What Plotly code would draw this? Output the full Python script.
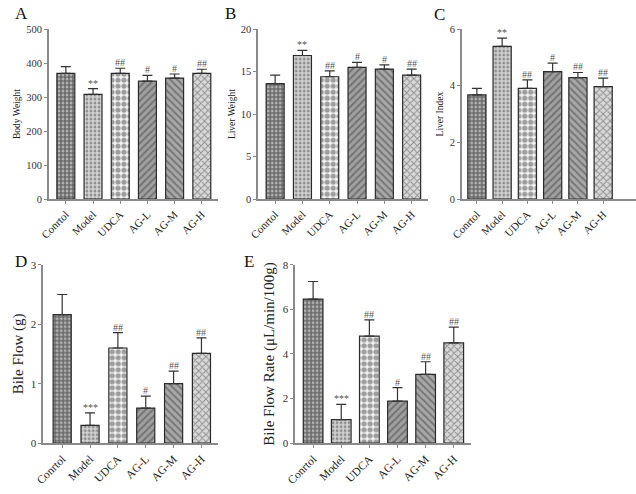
import plotly.graph_objects as go

groups = ["Conrtol", "Model", "UDCA", "AG-L", "AG-M", "AG-H"]

body_weight = [370, 308, 370, 347, 356, 370]
body_weight_err = [20, 17, 15, 17, 12, 12]
body_weight_sig = ["", "**", "##", "#", "#", "##"]

liver_weight = [13.6, 16.9, 14.4, 15.5, 15.3, 14.6]
liver_weight_err = [1.0, 0.6, 0.7, 0.6, 0.5, 0.7]
liver_weight_sig = ["", "**", "##", "#", "#", "##"]

liver_index = [3.68, 5.39, 3.91, 4.5, 4.29, 3.97]
liver_index_err = [0.23, 0.29, 0.3, 0.3, 0.18, 0.3]
liver_index_sig = ["", "**", "##", "#", "##", "##"]

bile_flow = [2.16, 0.30, 1.60, 0.59, 1.0, 1.51]
bile_flow_err = [0.34, 0.21, 0.26, 0.2, 0.21, 0.26]
bile_flow_sig = ["", "***", "##", "#", "##", "##"]

bile_rate = [6.46, 1.05, 4.8, 1.88, 3.08, 4.5]
bile_rate_err = [0.79, 0.69, 0.73, 0.61, 0.57, 0.7]
bile_rate_sig = ["", "***", "##", "#", "##", "##"]

shapes_pat = [".", ".", ".", "/", "\\", "x"]
bg_cols = ["#686868", "#d4d4d4", "#f4f4f4", "#a0a0a0", "#a8a8a8", "#d8d8d8"]
fg_cols = ["#9c9c9c", "#a8a8a8", "#4a4a4a", "#555555", "#4a4a4a", "#8c8c8c"]
pat_size = [4, 4, 6, 5, 5, 5]
pat_sol = [0.4, 0.4, 0.6, 0.4, 0.4, 0.35]

FONT = "Liberation Serif, Times New Roman, serif"

panels = [
    dict(vals=body_weight, err=body_weight_err, sig=body_weight_sig, title="Body Weight",
         xd=[0.077, 0.343], yd=[0.597, 0.941], xr=[-0.62, 5.6], yr=[0, 500], dt=100,
         tsize=9.5, letter="A", lx=0.02, ly=0.995, bw=0.66),
    dict(vals=liver_weight, err=liver_weight_err, sig=liver_weight_sig, title="Liver Weight",
         xd=[0.406, 0.673], yd=[0.597, 0.941], xr=[-0.62, 5.6], yr=[0, 20], dt=5,
         tsize=9.5, letter="B", lx=0.351, ly=0.995, bw=0.66),
    dict(vals=liver_index, err=liver_index_err, sig=liver_index_sig, title="Liver Index",
         xd=[0.726, 1.0], yd=[0.597, 0.941], xr=[-0.6, 6.3], yr=[0, 6], dt=2,
         tsize=9.5, letter="C", lx=0.68, ly=0.993, bw=0.72),
    dict(vals=bile_flow, err=bile_flow_err, sig=bile_flow_sig, title="Bile Flow (g)",
         xd=[0.068, 0.343], yd=[0.103, 0.464], xr=[-0.68, 5.6], yr=[0, 3], dt=1,
         tsize=15, letter="D", lx=0.02, ly=0.494, bw=0.65),
    dict(vals=bile_rate, err=bile_rate_err, sig=bile_rate_sig, title="Bile Flow Rate (μL/min/100g)",
         xd=[0.464, 0.74], yd=[0.103, 0.464], xr=[-0.64, 5.6], yr=[0, 8], dt=2,
         tsize=15, letter="E", lx=0.38, ly=0.494, bw=0.7),
]

fig = go.Figure()
for i, p in enumerate(panels):
    n = "" if i == 0 else str(i + 1)
    xa, ya = "x" + n, "y" + n
    fig.add_trace(go.Bar(
        x=list(range(len(groups))), y=p["vals"], xaxis=xa, yaxis=ya, width=p["bw"],
        marker=dict(
            color=bg_cols,
            line=dict(color="#2a2a2a", width=1.2),
            pattern=dict(shape=shapes_pat, fgcolor=fg_cols,
                         size=pat_size, solidity=pat_sol, fillmode="overlay"),
        ),
        error_y=dict(type="data", symmetric=False, array=p["err"],
                     arrayminus=[0] * len(groups), color="#333", thickness=1.2, width=5),
        showlegend=False, hoverinfo="skip",
    ))
    fig.layout["xaxis" + n] = dict(
        domain=p["xd"], anchor=ya, range=p["xr"], tickmode="array", automargin=False,
        tickvals=list(range(len(groups))), ticktext=groups, tickangle=-45,
        showline=True, linecolor="#8a8a8a", linewidth=1.5, ticks="outside",
        ticklen=3, tickcolor="#8a8a8a", showgrid=False, zeroline=False,
        tickfont=dict(family=FONT, size=11 if i < 3 else 11.5, color="#222"), fixedrange=True)
    fig.layout["yaxis" + n] = dict(
        domain=p["yd"], anchor=xa, range=p["yr"], dtick=p["dt"], automargin=False,
        showline=True, linecolor="#8a8a8a", linewidth=1.5, ticks="outside",
        ticklen=3, tickcolor="#8a8a8a", showgrid=False, zeroline=False,
        title=dict(text=p["title"], font=dict(family=FONT, size=p["tsize"], color="#222"),
                   standoff=4 if i < 3 else 4),
        tickfont=dict(family=FONT, size=10.5 if i < 3 else 11, color="#333"), fixedrange=True)
    for j, s in enumerate(p["sig"]):
        if s:
            fig.add_annotation(x=j, y=p["vals"][j] + p["err"][j], xref=xa, yref=ya,
                               text=s, showarrow=False, yanchor="bottom", yshift=-2,
                               font=dict(family=FONT, size=10, color="#555"))
    fig.add_annotation(x=p["lx"], y=p["ly"], xref="paper", yref="paper", text=p["letter"],
                       showarrow=False, xanchor="left", yanchor="top",
                       font=dict(family=FONT, size=17, color="#111"))

fig.update_layout(width=636, height=494, margin=dict(l=0, r=0, t=0, b=0),
                  plot_bgcolor="white", paper_bgcolor="white", bargap=0.3)
fig.write_html("out.html")
